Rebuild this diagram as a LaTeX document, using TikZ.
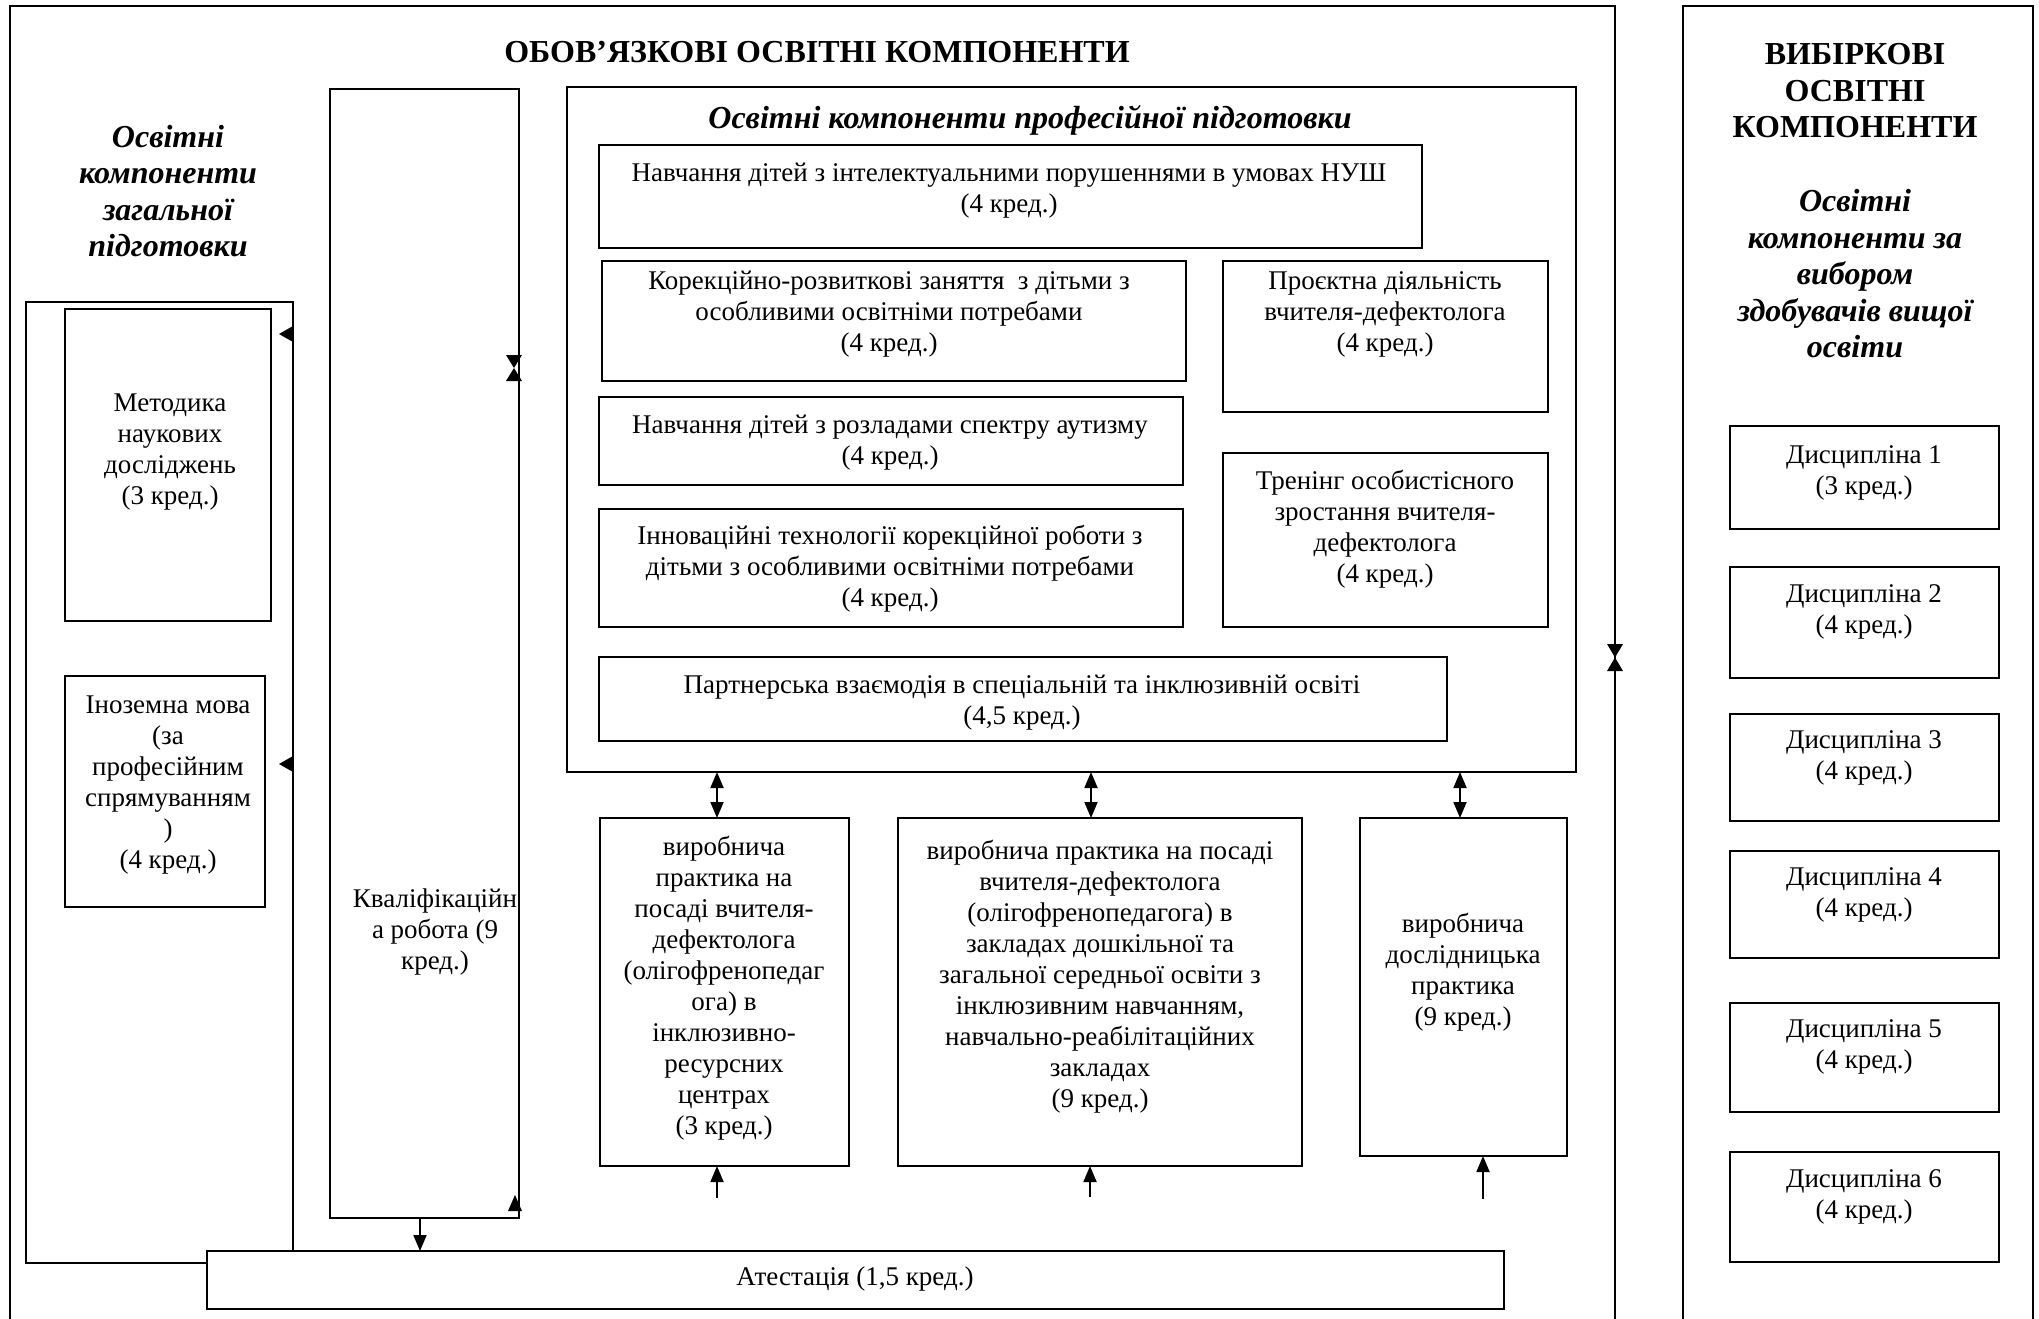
\documentclass[tikz,border=0pt]{standalone}
\usepackage{fontspec}
\setmainfont{Liberation Serif}
\usetikzlibrary{arrows.meta}
\newcommand\mybox[6][box]{\node[#1, minimum width={#5-#3}, minimum height={#6-#4}] (#2) at ({(#3+#5)/2},{(#4+#6)/2}) {};}
\begin{document}
\begin{tikzpicture}[x=1pt,y=-1pt,
  box/.style={draw, line width=2.4pt, inner sep=0pt, outer sep=0pt, fill=white},
  frame/.style={draw, line width=2.4pt, inner sep=0pt, outer sep=0pt},
  txt/.style={align=center, inner sep=0pt, font=\fontsize{27pt}{31pt}\selectfont},
  head/.style={align=center, inner sep=0pt, font=\fontsize{32pt}{36.5pt}\selectfont\bfseries},
  ihead/.style={align=center, inner sep=0pt, font=\fontsize{32pt}{36.5pt}\selectfont\bfseries\itshape},
  arr/.style={line width=1.8pt, -{Triangle[length=16pt,width=13pt]}},
  darr/.style={line width=1.8pt, {Triangle[length=16pt,width=13pt]}-{Triangle[length=16pt,width=13pt]}},
]
\useasboundingbox (0,0) rectangle (2039,1319);
\fill[white] (0,0) rectangle (2039,1319);
\clip (0,0) rectangle (2039,1319);

% big frames
\mybox[frame]{oblig}{10}{6}{1615}{1345}
\mybox[frame]{vybir}{1683}{6}{2033}{1345}

% headings
\node[head] (tobl) at (817,52) {ОБОВ’ЯЗКОВІ ОСВІТНІ КОМПОНЕНТИ};
\node[ihead] (tgen) at (168,191) {Освітні\\компоненти\\загальної\\підготовки};
\node[head] (tvyb) at (1855,91) {ВИБІРКОВІ\\ОСВІТНІ\\КОМПОНЕНТИ};
\node[ihead] (tvyb2) at (1855,274) {Освітні\\компоненти за\\вибором\\здобувачів вищої\\освіти};

% general block
\mybox{gen}{26}{302}{293}{1263}
\mybox{metod}{65}{309}{271}{621}
\node[txt] (metod-t) at (170,452) {Методика\\наукових\\досліджень\\(3 кред.)};
\mybox{inoz}{65}{676}{265}{907}
\node[txt] (inoz-t) at (168,785) {Іноземна мова\\(за\\професійним\\спрямуванням\\)\\(4 кред.)};

% qualification work
\mybox{kval}{330}{89}{519}{1218}
\node[txt] (kval-t) at (435,932) {Кваліфікаційн\\а робота (9\\кред.)};

% professional block
\mybox{prof}{567}{87}{1576}{772}
\node[ihead] (prof-t) at (1030,120) {Освітні компоненти професійної підготовки};
\mybox{nush}{599}{145}{1422}{248}
\node[txt] (nush-t) at (1009,191) {Навчання дітей з інтелектуальними порушеннями в умовах НУШ\\(4 кред.)};
\mybox{kor}{602}{261}{1186}{381}
\node[txt] (kor-t) at (889,314) {Корекційно-розвиткові заняття\ \ з дітьми з\\особливими освітніми потребами\\(4 кред.)};
\mybox{proj}{1223}{261}{1548}{412}
\node[txt] (proj-t) at (1385,314) {Проєктна діяльність\\вчителя-дефектолога\\(4 кред.)};
\mybox{rsa}{599}{397}{1183}{485}
\node[txt] (rsa-t) at (890,443) {Навчання дітей з розладами спектру аутизму\\(4 кред.)};
\mybox{tren}{1223}{453}{1548}{627}
\node[txt] (tren-t) at (1385,529) {Тренінг особистісного\\зростання вчителя-\\дефектолога\\(4 кред.)};
\mybox{inn}{599}{509}{1183}{627}
\node[txt] (inn-t) at (890,569) {Інноваційні технології корекційної роботи з\\дітьми з особливими освітніми потребами\\(4 кред.)};
\mybox{part}{599}{657}{1447}{741}
\node[txt] (part-t) at (1022,703) {Партнерська взаємодія в спеціальній та інклюзивній освіті\\(4,5 кред.)};

% practices
\mybox{p1}{600}{818}{849}{1166}
\node[txt] (p1-t) at (724,988) {виробнича\\практика на\\посаді вчителя-\\дефектолога\\(олігофренопедаг\\ога) в\\інклюзивно-\\ресурсних\\центрах\\(3 кред.)};
\mybox{p2}{898}{818}{1302}{1166}
\node[txt] (p2-t) at (1100,977) {виробнича практика на посаді\\вчителя-дефектолога\\(олігофренопедагога) в\\закладах дошкільної та\\загальної середньої освіти з\\інклюзивним навчанням,\\навчально-реабілітаційних\\закладах\\(9 кред.)};
\mybox{p3}{1360}{818}{1567}{1156}
\node[txt] (p3-t) at (1463,972) {виробнича\\дослідницька\\практика\\(9 кред.)};

% attestation
\mybox{atest}{207}{1251}{1504}{1309}
\node[txt] (atest-t) at (855,1279) {Атестація (1,5 кред.)};

% electives
\mybox{d1}{1730}{426}{1999}{529}
\node[txt] (d1-t) at (1864,473) {Дисципліна 1\\(3 кред.)};
\mybox{d2}{1730}{567}{1999}{678}
\node[txt] (d2-t) at (1864,612) {Дисципліна 2\\(4 кред.)};
\mybox{d3}{1730}{714}{1999}{821}
\node[txt] (d3-t) at (1864,758) {Дисципліна 3\\(4 кред.)};
\mybox{d4}{1730}{851}{1999}{958}
\node[txt] (d4-t) at (1864,895) {Дисципліна 4\\(4 кред.)};
\mybox{d5}{1730}{1003}{1999}{1112}
\node[txt] (d5-t) at (1864,1047) {Дисципліна 5\\(4 кред.)};
\mybox{d6}{1730}{1152}{1999}{1262}
\node[txt] (d6-t) at (1864,1197) {Дисципліна 6\\(4 кред.)};

% connectors
\coordinate (ka) at (420,1218);
\draw[arr] (ka) -- (ka |- atest.north);
\draw[darr] (prof.south -| 717,0) -- (p1.north -| 717,0);
\draw[darr] (prof.south -| 1091,0) -- (p2.north -| 1091,0);
\draw[darr] (prof.south -| 1460,0) -- (p3.north -| 1460,0);
\coordinate (u1) at (717,1198);
\coordinate (u2) at (1090,1197);
\coordinate (u3) at (1483,1199);
\draw[arr] (u1) -- (u1 |- p1.south);
\draw[arr] (u2) -- (u2 |- p2.south);
\draw[arr] (u3) -- (u3 |- p3.south);

% isolated arrowheads
\fill (506,355) -- (522,355) -- (514,368) -- cycle;
\fill (506,381) -- (522,381) -- (514,368) -- cycle;
\fill (1607,644) -- (1623,644) -- (1615,657.5) -- cycle;
\fill (1607,671) -- (1623,671) -- (1615,657.5) -- cycle;
\fill (515,1195) -- (522,1211) -- (508,1211) -- cycle;
\fill (279,334) -- (293,326) -- (293,342) -- cycle;
\fill (279,764) -- (293,756) -- (293,772) -- cycle;
\end{tikzpicture}
\end{document}
